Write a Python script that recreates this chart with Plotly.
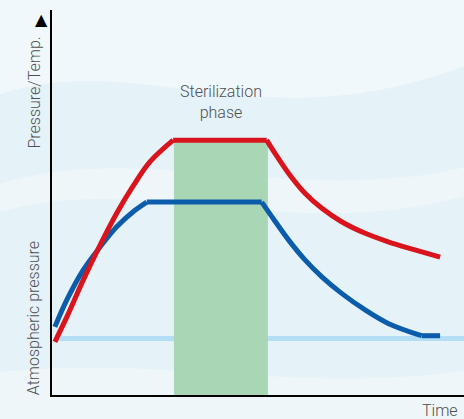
import plotly.graph_objects as go

# Time axis 0..100, value axis 0..100 (arbitrary units)
red_rise_t = [0.7, 3.6, 7.6, 11.7, 15.7, 19.7, 23.8, 29.4]
red_rise_v = [13.8, 20.3, 29.9, 39.0, 47.2, 54.3, 60.6, 66.2]
red_flat_t = [29.4, 52.1]
red_flat_v = [66.2, 66.2]
red_decay_t = [52.1, 54.1, 57.4, 61.4, 65.5, 70.3, 76.0, 81.6, 88.1, 94.2]
red_decay_v = [66.2, 62.8, 57.6, 52.4, 48.5, 45.0, 42.0, 39.8, 37.7, 35.8]

blue_rise_t = [0.7, 3.6, 7.6, 11.7, 15.7, 19.7, 23.0]
blue_rise_v = [17.7, 24.7, 32.5, 38.5, 43.7, 47.6, 50.1]
blue_flat_t = [23.0, 50.9]
blue_flat_v = [50.1, 50.1]
blue_decay_t = [50.9, 54.1, 57.4, 61.4, 65.5, 70.3, 76.0, 81.6, 89.7]
blue_decay_v = [50.1, 45.2, 40.3, 35.1, 30.7, 26.4, 22.1, 18.6, 15.4]
blue_end_t = [89.7, 94.2]
blue_end_v = [15.4, 15.4]

atm_t = [0.7, 100]
atm_v = [14.7, 14.7]

phase_start, phase_end, phase_top = 29.6, 52.4, 66.2

RED = "#d9141c"
BLUE = "#0b5cab"

fig = go.Figure()

fig.add_trace(go.Scatter(x=atm_t, y=atm_v, mode="lines",
                         line=dict(color="#b3def5", width=5), hoverinfo="skip", showlegend=False))

# sterilization phase band
fig.add_trace(go.Scatter(
    x=[phase_start, phase_end, phase_end, phase_start, phase_start],
    y=[0, 0, phase_top, phase_top, 0],
    fill="toself", fillcolor="#a9d6b5", line=dict(width=0),
    mode="lines", hoverinfo="skip", showlegend=False))

for tt, vv, c in [
    (blue_rise_t, blue_rise_v, BLUE), (blue_flat_t, blue_flat_v, BLUE),
    (blue_decay_t, blue_decay_v, BLUE), (blue_end_t, blue_end_v, BLUE),
    (red_rise_t, red_rise_v, RED), (red_flat_t, red_flat_v, RED), (red_decay_t, red_decay_v, RED),
]:
    fig.add_trace(go.Scatter(x=tt, y=vv, mode="lines",
                             line=dict(color=c, width=5, shape="spline", smoothing=1.0),
                             hoverinfo="skip", showlegend=False))

font = dict(family="Roboto, Arial, sans-serif", size=16, color="#505050", weight=300)

# soft background waves
bg_shapes = [
    dict(type="path", xref="paper", yref="paper", layer="below", line=dict(width=0),
         fillcolor="rgba(255,255,255,0.45)",
         path="M -0.2,0.75 C 0.2,0.95 0.5,0.6 1.1,0.9 L 1.1,1.1 L -0.2,1.1 Z"),
    dict(type="path", xref="paper", yref="paper", layer="below", line=dict(width=0),
         fillcolor="rgba(255,255,255,0.35)",
         path="M -0.2,0.45 C 0.2,0.62 0.6,0.35 1.1,0.55 L 1.1,0.62 C 0.6,0.45 0.2,0.7 -0.2,0.52 Z"),
    dict(type="path", xref="paper", yref="paper", layer="below", line=dict(width=0),
         fillcolor="rgba(255,255,255,0.35)",
         path="M -0.2,0.05 C 0.3,0.12 0.6,-0.02 1.1,0.08 L 1.1,-0.1 L -0.2,-0.1 Z"),
]

fig.update_layout(
    width=464, height=419,
    margin=dict(l=52, r=0, t=10, b=24),
    paper_bgcolor="#e5f2f8", plot_bgcolor="rgba(0,0,0,0)",
    shapes=bg_shapes,
    xaxis=dict(range=[0, 100], showgrid=False, zeroline=False, showticklabels=False,
               showline=True, linecolor="black", linewidth=2, fixedrange=True),
    yaxis=dict(range=[0, 100], showgrid=False, zeroline=False, showticklabels=False,
               showline=True, linecolor="black", linewidth=2, fixedrange=True),
    annotations=[
        dict(text="Sterilization<br>phase", x=(phase_start + phase_end) / 2, y=70.5, xref="x", yref="y",
             showarrow=False, yanchor="bottom", font=font),
        dict(text="Time", x=0.99, y=-0.01, xref="paper", yref="paper", xanchor="right", yanchor="top",
             showarrow=False, font=font),
        dict(text="Pressure/Temp.", x=-0.043, y=0.937, xref="paper", yref="paper", textangle=-90,
             xanchor="center", yanchor="top", showarrow=False, font=font),
        dict(text="Atmospheric pressure", x=-0.043, y=-0.005, xref="paper", yref="paper", textangle=-90,
             xanchor="center", yanchor="bottom", showarrow=False, font=font),
        dict(text="▲", x=-0.025, y=1.005, xref="paper", yref="paper", xanchor="center", yanchor="top",
             showarrow=False, font=dict(family="DejaVu Sans", size=16, color="black")),
    ],
)

fig.write_html("out.html", config={"displayModeBar": False},
               post_script="document.body.style.margin='0';")
